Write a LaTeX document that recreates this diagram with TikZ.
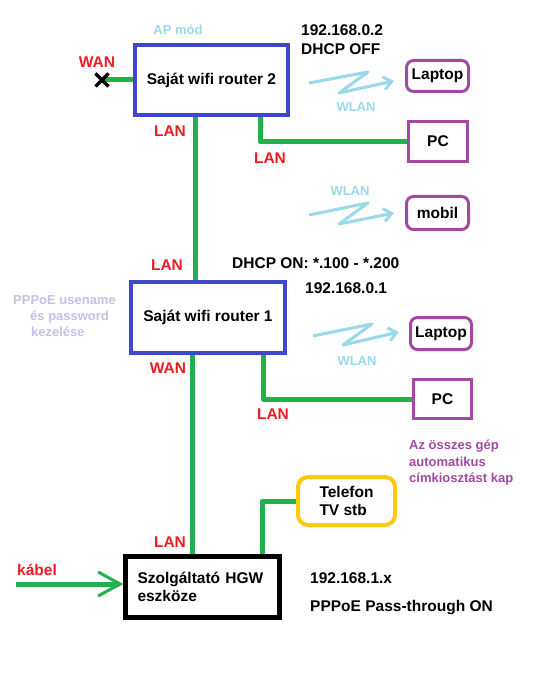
\documentclass[tikz,border=0pt]{standalone}
\usepackage{fontspec}
\setmainfont{Liberation Sans}
\usetikzlibrary{arrows.meta}
\definecolor{pblue}{HTML}{3F48CC}
\definecolor{pgreen}{HTML}{22B14C}
\definecolor{pred}{HTML}{ED1C24}
\definecolor{ppurple}{HTML}{A349A4}
\definecolor{plight}{HTML}{99D9EA}
\definecolor{plav}{HTML}{C8BFE7}
\definecolor{pyellow}{HTML}{FFC90E}
\begin{document}
\begin{tikzpicture}[x=1pt,y=-1pt,
  every node/.style={font=\bfseries\fontsize{15.5}{18.5}\selectfont, inner sep=0pt},
  router/.style={draw=pblue, line width=4pt},
  dev/.style={draw=ppurple, line width=3pt},
  wire/.style={draw=pgreen, line width=5pt, line join=round},
  wlan/.style={draw=plight, line width=3pt, line join=round, -{Straight Barb[length=8pt,width=13pt,line width=3pt]}},
  port/.style={text=pred, anchor=base},
  wtxt/.style={text=plight, font=\bfseries\fontsize{13}{15}\selectfont, anchor=base},
  ltxt/.style={text=plav, font=\bfseries\fontsize{13}{15}\selectfont, anchor=base west},
  ptxt/.style={text=ppurple, font=\bfseries\fontsize{13}{15}\selectfont, anchor=base west},
  info/.style={anchor=base west},
]
\fill[white] (0,0) rectangle (548,684);
\useasboundingbox (0,0) rectangle (548,684);

% routers and devices
\node[router, minimum width=153pt, minimum height=70pt] (r2) at (211.5,80) {Saját wifi router 2};
\node[router, minimum width=154pt, minimum height=71pt] (r1) at (208,317.5) {Saját wifi router 1};
\node[draw=black, line width=4.5pt, minimum width=154pt, minimum height=61pt, align=left, text width=130pt] (hgw) at (202.5,587) {Szolgáltató HGW\\eszköze};

\node[dev, rounded corners=7pt, minimum width=62pt, minimum height=31pt] (lap2) at (437.5,76) {Laptop};
\node[dev, minimum width=59pt, minimum height=40pt] (pc2) at (438,141.5) {PC};
\node[dev, rounded corners=7pt, minimum width=62pt, minimum height=33pt] (mob) at (437.5,213) {mobil};
\node[dev, rounded corners=7pt, minimum width=61pt, minimum height=32pt] (lap1) at (441,333.5) {Laptop};
\node[dev, minimum width=58pt, minimum height=39pt] (pc1) at (442.5,399) {PC};
\node[draw=pyellow, line width=4pt, rounded corners=10pt, minimum width=97pt, minimum height=48pt, align=left] (tel) at (346.5,501) {Telefon\\TV stb};

% coordinates
\coordinate (wanx) at (102,80);
\coordinate (kab) at (16,584);
\coordinate (xa) at (195.5,0);
\coordinate (xb) at (192.5,0);
\coordinate (xc) at (260,0);
\coordinate (xd) at (263,0);
\coordinate (xe) at (262,0);

% wires
\draw[wire] (r2.west |- wanx) -- (wanx);
\draw[black, line width=3.5pt] ([shift={(-6.5,-6.5)}]wanx) -- ([shift={(6.5,6.5)}]wanx)
  ([shift={(-6.5,6.5)}]wanx) -- ([shift={(6.5,-6.5)}]wanx);
\draw[wire] (r2.south -| xa) -- (r1.north -| xa);
\draw[wire] (r1.south -| xb) -- (hgw.north -| xb);
\draw[wire] (r2.south -| xc) |- (pc2.west);
\draw[wire] (r1.south -| xd) |- (pc1.west);
\draw[wire] (hgw.north -| xe) |- (tel.west);
\draw[wire, -{Straight Barb[length=22pt,width=24pt,line width=3pt]}] (kab) -- (hgw.west |- kab);

% wlan squiggles
\draw[wlan] (309,83) -- (368,72) -- (339,93) -- (394,81);
\draw[wlan] (309,215) -- (368,203) -- (339,224) -- (394,213);
\draw[wlan] (313,336) -- (372,324) -- (343,345) -- (399,332);

% texts
\node[wtxt] (apm) at (178,35) {AP mód};
\node[port] (wan2) at (97,68) {WAN};
\node[info] (ip2) at (301,36) {192.168.0.2};
\node[info] (dhcp2) at (301,55) {DHCP OFF};
\node[port] (lanA) at (170,137) {LAN};
\node[port] (lanB) at (270,164) {LAN};
\node[wtxt] (wl1) at (356,112) {WLAN};
\node[wtxt] (wl2) at (350,196) {WLAN};
\node[port] (lanC) at (167,270) {LAN};
\node[info] (dhcp1) at (232,269) {DHCP ON: *.100 - *.200};
\node[info] (ip1) at (305,293) {192.168.0.1};
\node[ltxt] (pp1) at (13,304) {PPPoE usename};
\node[ltxt] (pp2) at (30,320) {és password};
\node[ltxt] (pp3) at (31,336) {kezelése};
\node[port] (wan1) at (168,373) {WAN};
\node[port] (lanD) at (273,419) {LAN};
\node[wtxt] (wl3) at (357,365) {WLAN};
\node[ptxt] (az1) at (409,449) {Az összes gép};
\node[ptxt] (az2) at (409,466) {automatikus};
\node[ptxt] (az3) at (409,482) {címkiosztást kap};
\node[port] (lanE) at (170,547) {LAN};
\node[port, anchor=base west] (kabel) at (17,575) {kábel};
\node[info] (ip0) at (310,583) {192.168.1.x};
\node[info] (ppp) at (310,611) {PPPoE Pass-through ON};
\end{tikzpicture}
\end{document}
